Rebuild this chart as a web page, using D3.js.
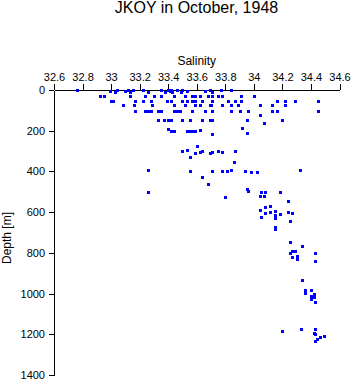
<!DOCTYPE html>
<meta charset="utf-8">
<style>
body { margin:0; background:#fff; }
text { font-family: "Liberation Sans", Arial, sans-serif; fill:#000; }
.axis path, .axis line { fill:none; stroke:#000; shape-rendering:crispEdges; }
.axis text { font-size:11px; }
.title { font-size:16px; text-anchor:middle; }
.label { font-size:12px; text-anchor:middle; }
.pt { fill:#0000ff; shape-rendering:crispEdges; }
</style>
<body>
<script src="https://d3js.org/d3.v7.min.js"></script>
<script>

// salinity / depth, grouped roughly by depth level
var salinity = [
  32.76,32.99,33.03,33.04,33.10,33.12,33.13,33.15,33.22,33.26,33.35,33.38,33.40,33.41,33.42,33.43,33.46,33.49,33.50,33.53,33.66,33.69,33.71,33.77,33.84,
  32.92,32.95,33.13,33.24,33.30,33.35,33.44,33.52,33.57,33.59,33.62,33.68,33.71,33.75,33.78,33.91,34.00,
  33.00,33.01,33.17,33.22,33.28,33.39,33.42,33.50,33.53,33.57,33.59,33.64,33.71,33.82,33.87,33.91,34.16,34.22,34.29,34.45,
  33.08,33.16,33.29,33.44,33.52,33.59,33.62,33.69,33.70,33.78,33.84,33.89,34.04,34.13,34.22,
  33.17,33.24,33.26,33.28,33.33,33.35,33.44,33.46,33.48,33.57,33.66,33.71,33.84,33.90,33.96,34.13,34.16,34.45,
  34.04,
  33.33,33.37,33.40,33.42,33.50,33.55,33.64,33.69,33.71,33.95,34.20,
  34.07,33.92,
  33.40,33.42,33.44,33.53,33.55,33.57,33.59,33.62,33.95,33.71,
  33.60,
  33.50,33.53,33.59,33.62,33.64,33.69,33.71,33.75,33.78,33.87,
  33.55,33.86,
  33.26,33.55,33.71,33.78,33.81,33.84,33.94,33.98,34.02,34.32,
  33.64,33.68,
  33.95,33.96,34.05,34.08,34.18,33.26,
  34.04,34.07,33.80,34.24,
  34.04,34.08,34.11,34.08,34.11,34.15,34.24,34.27,
  34.15,34.18,34.15,34.05,34.25,
  34.15,34.15,
  34.25,34.34,
  34.27,34.29,34.25,34.30,34.30,34.27,34.43,34.43,
  34.34,
  34.36,34.36,34.40,34.42,34.40,34.42,34.40,34.43,
  34.20,34.33,34.43,34.42,34.43,34.49,34.46,34.44,34.43
];
var depth = [
  0,5,10,0,5,0,10,0,0,10,0,10,0,5,0,10,0,10,0,5,5,0,10,0,0,
  28,28,28,28,28,28,28,28,28,28,28,28,28,28,28,28,28,
  53,53,53,53,53,53,53,53,53,53,53,53,53,53,53,53,53,53,53,53,
  75,75,75,75,75,75,75,75,75,75,75,75,75,75,75,
  103,103,103,103,103,103,103,103,103,103,103,103,103,103,103,103,103,103,
  123,
  148,148,148,148,148,148,148,148,148,148,148,
  164,187,
  192,201,201,201,201,201,201,197,211,216,
  273,
  300,297,309,307,300,309,307,300,307,300,
  329,355,
  393,396,399,399,399,393,399,404,404,393,
  429,463,
  488,495,500,500,500,500,
  519,519,527,544,
  589,576,570,603,601,594,598,606,
  614,609,630,625,642,
  674,684,
  748,766,
  789,791,802,815,829,822,802,841,
  935,
  982,996,982,1003,1014,1018,1027,1039,
  1183,1175,1174,1195,1198,1208,1215,1224,1234
];

var xTicks = [32.6,32.8,33,33.2,33.4,33.6,33.8,34,34.2,34.4,34.6];
var yTicks = [0,200,400,600,800,1000,1200,1400];

var margin = {top:90, left:54};
var width = 285.5, height = 285;

var svg = d3.select("body").append("svg").attr("width",353).attr("height",384);

svg.append("text").attr("class","title").attr("x",196.5).attr("y",13).text("JKOY in October, 1948");

var g = svg.append("g").attr("transform","translate("+margin.left+","+margin.top+")");

var x = d3.scaleLinear().domain([32.6,34.6]).range([0,width]);
var y = d3.scaleLinear().domain([0,1400]).range([0,height]);

g.append("g").attr("class","axis")
	.call(d3.axisTop(x).tickValues(xTicks).tickSize(6).tickSizeOuter(0).tickPadding(3)
		.tickFormat(d3.format("")));

g.append("g").attr("class","axis")
	.call(d3.axisLeft(y).tickValues(yTicks).tickSize(5).tickSizeOuter(0).tickPadding(4)
		.tickFormat(d3.format("d")));

g.append("text").attr("class","label").attr("x",x(33.6)).attr("y",-25).text("Salinity");

svg.append("text").attr("class","label")
	.attr("transform","translate(11,238) rotate(-90)").text("Depth [m]");

var pts = d3.range(salinity.length).map(function(i){ return [salinity[i], depth[i]]; });

g.selectAll(".pt").data(pts).enter().append("rect").attr("class","pt")
	.attr("x",d=>Math.round(x(d[0]))-1)
	.attr("y",d=>Math.round(y(d[1]))-1)
	.attr("width",3)
	.attr("height",3);

</script>
</body>
